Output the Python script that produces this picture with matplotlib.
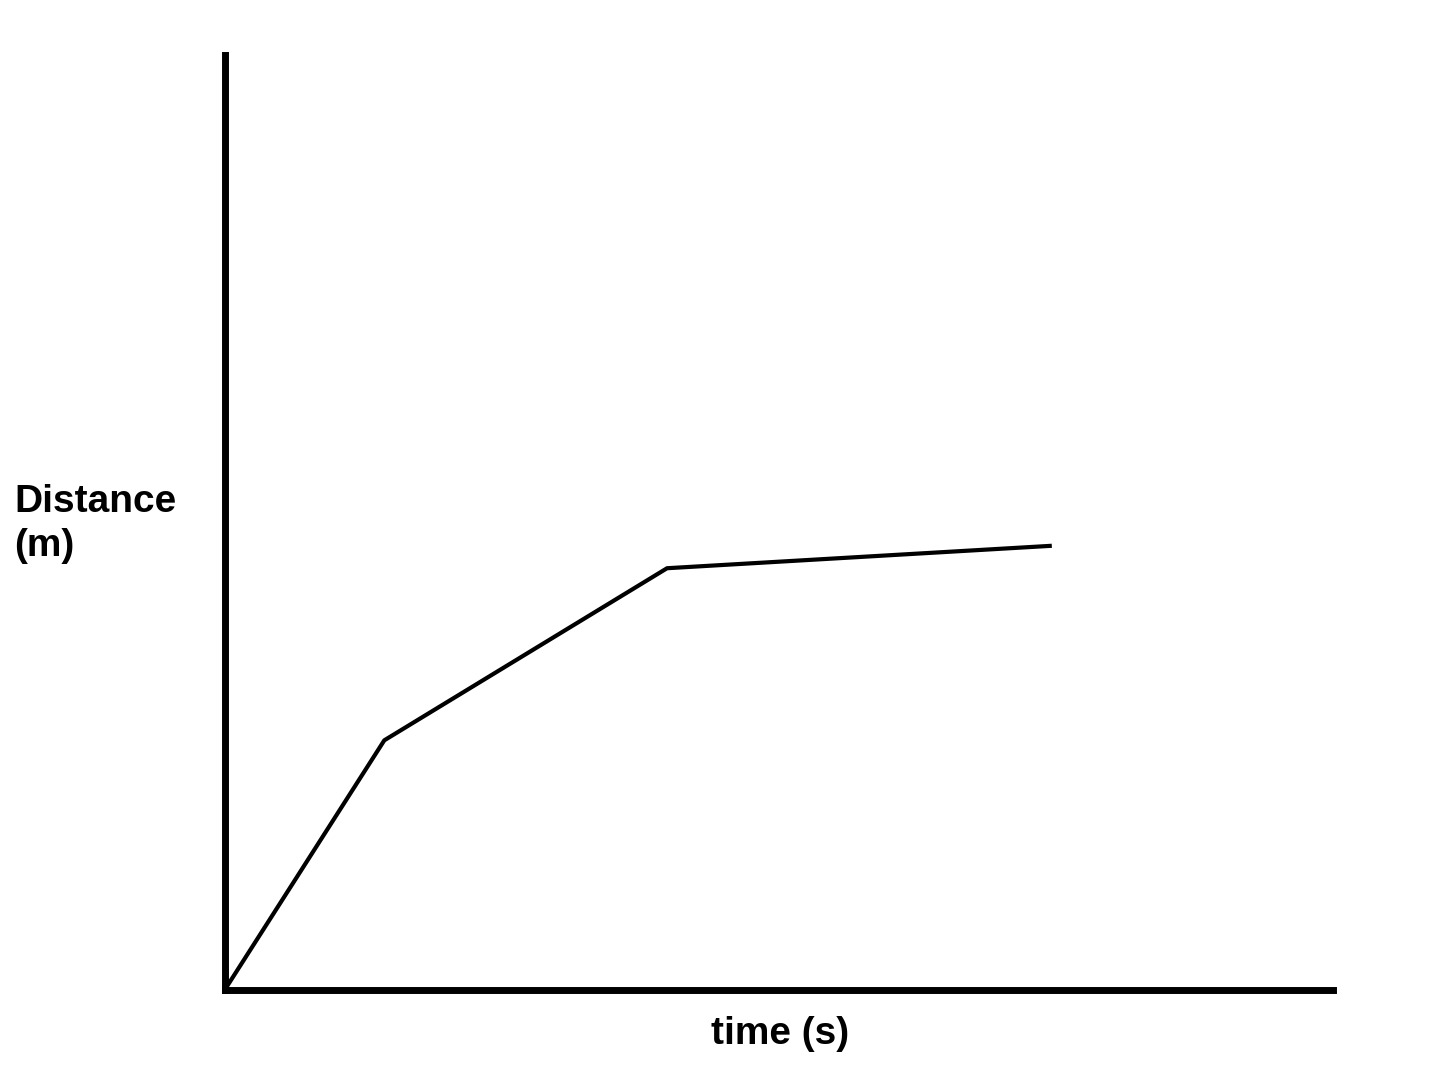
import matplotlib.pyplot as plt

# distance-time sketch, arbitrary units
time = [0, 1.44, 3.99, 7.46]
distance = [0, 2.67, 4.51, 4.75]

fig = plt.figure(figsize=(14.4, 10.8), dpi=100)
ax = fig.add_axes([0.156, 0.0833, 0.770, 0.866])
ax.plot(time, distance, color='black', linewidth=3, solid_capstyle='butt')
ax.set_xlim(0, 10)
ax.set_ylim(0, 10)

for side in ['top', 'right']:
    ax.spines[side].set_visible(False)
for side in ['left', 'bottom']:
    ax.spines[side].set_linewidth(5)
ax.set_xticks([])
ax.set_yticks([])

fig.text(0.010, 0.515, "Distance\n(m)", fontsize=28, fontweight='bold',
         ha='left', va='center', linespacing=1.3, family='Liberation Sans')
fig.text(0.542, 0.043, "time (s)", fontsize=28, fontweight='bold',
         ha='center', va='center', family='Liberation Sans')

fig.savefig('out.png', dpi=100)
